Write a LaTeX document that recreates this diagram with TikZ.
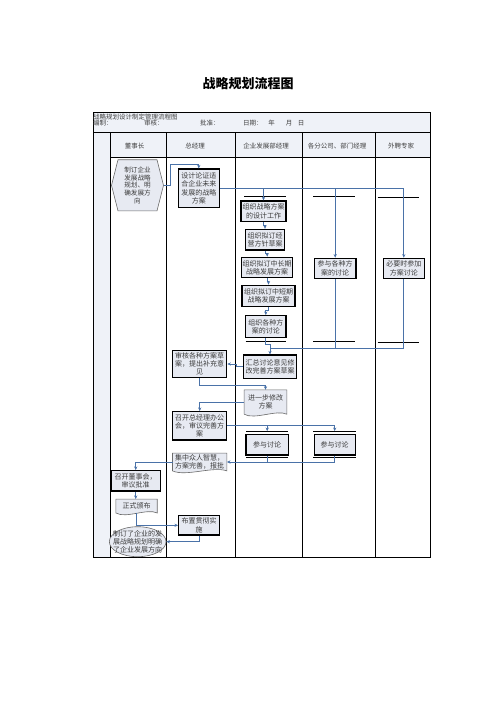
\documentclass[tikz,border=0pt]{standalone}
\usepackage{fontspec}
\newfontfamily\cjk{Noto Sans CJK SC}
\usetikzlibrary{calc,arrows.meta,shapes.geometric,backgrounds}
\definecolor{boxfill}{HTML}{E7EAF2}
\definecolor{hdrfill}{HTML}{EFF2F8}
\definecolor{conncol}{HTML}{4A72A8}
\definecolor{txtcol}{HTML}{3C3C3C}
\definecolor{thinline}{HTML}{6A6A6A}
\newcommand\mydocshape[1]{%
  \begin{scope}[on background layer]
  \path[draw=thinline,line width=0.6pt,fill=boxfill]
    (#1.south west) -- (#1.north west) -- (#1.north east) -- (#1.south east)
    .. controls ($(#1.south)!0.5!(#1.south east)+(0,-5)$) and ($(#1.south)!0.5!(#1.south west)+(0,6)$) .. (#1.south west) -- cycle;
  \end{scope}}
\begin{document}
\begin{tikzpicture}[x=1pt,y=-1pt,
  every node/.style={font=\cjk, text=txtcol, inner sep=0pt},
  box/.style={draw=black, line width=1.2pt, fill=boxfill, align=center, font=\cjk\fontsize{7}{8.3}\selectfont},
  plain/.style={align=center, font=\cjk\fontsize{7}{8.3}\selectfont},
  conn/.style={draw=conncol, line width=0.75pt, -{Stealth[length=3.6pt,width=3.2pt]}},
  connline/.style={draw=conncol, line width=0.75pt},
  bar/.style={draw=black, line width=0.9pt},
  frame/.style={draw=black, line width=0.9pt},
  hdr/.style={font=\cjk\fontsize{6.5}{7}\selectfont, text=black!75},
  lane/.style={font=\cjk\fontsize{6.5}{7}\selectfont, text=black!75}
]
\useasboundingbox (0,0) rectangle (496,702);

% title
\node[font=\cjk\fontsize{13}{13}\selectfont\bfseries, text=black] (title) at (248,84) {战略规划流程图};

% table background and frame
\begin{scope}[on background layer]
\fill[hdrfill] (93,112) rectangle (430,157);
\fill[hdrfill] (93,157) rectangle (110.5,557.5);
\draw[frame] (93,112) rectangle (430,557.5);
\draw[frame] (93,132) -- (430,132);
\draw[frame] (110.5,157) -- (430,157);
\foreach \x in {110.5,166.5,235.5,302.5,375.5} \draw[frame] (\x,132) -- (\x,557.5);
\end{scope}

% header texts
\node[hdr, anchor=west] (h1) at (93,117) {战略规划设计制定管理流程图};
\node[hdr, anchor=west] (h2) at (93,123.5) {编制：};
\node[hdr, anchor=west] (h3) at (144,123.5) {审核：};
\node[hdr, anchor=west] (h4) at (200,123.5) {批准：};
\node[hdr, anchor=west] (h5) at (243,123.5) {日期：};
\node[hdr] (h6) at (271.5,123.5) {年};
\node[hdr] (h7) at (289,123.5) {月};
\node[hdr] (h8) at (301,123.5) {日};

% lane headers
\node[lane] (l1) at (134.5,146) {董事长};
\node[lane] (l2) at (195,146) {总经理};
\node[lane] (l3) at (266,146) {企业发展部经理};
\node[lane] (l4) at (337,146) {各分公司、部门经理};
\node[lane] (l5) at (401,146) {外聘专家};

% hexagon start
\node[plain, font=\cjk\fontsize{6.6}{7.6}\selectfont, minimum width=51.6pt, minimum height=50.7pt] (hex) at (137.5,185.3) {制订企业\\发展战略\\规划、明\\确发展方\\向};
\begin{scope}[on background layer]
\path[draw=thinline, line width=0.6pt, fill=boxfill]
  ($(hex.north west)+(6.5,0)$) -- ($(hex.north east)+(-6.5,0)$) -- (hex.east)
  -- ($(hex.south east)+(-6.5,0)$) -- ($(hex.south west)+(6.5,0)$) -- (hex.west) -- cycle;
\end{scope}

% boxes
\node[box, minimum width=41pt, minimum height=38.3pt] (sheji) at (198.8,188.2) {设计论证适\\合企业未来\\发展的战略\\方案};
\node[box, minimum width=45pt, minimum height=20.5pt] (e1) at (263.5,211.3) {组织战略方案\\的设计工作};
\node[box, minimum width=39pt, minimum height=20.5pt] (e2) at (265,239.7) {组织拟订经\\营方针草案};
\node[box, minimum width=51pt, minimum height=20.4pt] (e3) at (267.2,267.5) {组织拟订中长期\\战略发展方案};
\node[box, minimum width=53pt, minimum height=21.5pt] (e4) at (268.5,296) {组织拟订中短期\\战略发展方案};
\node[box, minimum width=40.3pt, minimum height=22pt] (e5) at (265.8,326.7) {组织各种方\\案的讨论};
\node[box, minimum width=41.7pt, minimum height=20pt] (p1) at (335.2,268.3) {参与各种方\\案的讨论};
\node[box, minimum width=41pt, minimum height=20pt] (p2) at (403.8,268.3) {必要时参加\\方案讨论};

\node[box, minimum width=53.4pt, minimum height=23.3pt] (hz) at (270,366.7) {汇总讨论意见修\\改完善方案草案};
\node[box, minimum width=54pt, minimum height=26.6pt] (sh) at (199.7,364) {审核各种方案草\\案，提出补充意\\见};
\node[plain, minimum width=42.4pt, minimum height=24pt] (jy) at (265.5,402) {进一步修改\\方案};
\mydocshape{jy}
\node[box, minimum width=54pt, minimum height=28.3pt] (zk) at (199.7,425.8) {召开总经理办公\\会，审议完善方\\案};
\node[box, minimum width=42.3pt, minimum height=20.7pt] (q1) at (267.2,444.7) {参与讨论};
\node[box, minimum width=41pt, minimum height=20.7pt] (q2) at (334.7,444.7) {参与讨论};
\node[plain, minimum width=54pt, minimum height=17.4pt] (jz) at (199.7,462) {集中众人智慧，\\方案完善，报批};
\mydocshape{jz}
\node[box, minimum width=49.3pt, minimum height=20.3pt] (ds) at (135.7,480.8) {召开董事会，\\审议批准};
\node[plain, minimum width=41pt, minimum height=13.5pt] (gb) at (136.5,506) {正式颁布};
\mydocshape{gb}
\node[box, minimum width=41pt, minimum height=19.3pt] (bz) at (199.2,525.3) {布置贯彻实\\施};
\node[ellipse, draw=thinline, line width=0.6pt, fill=boxfill, minimum width=56.7pt, minimum height=30pt] (el) at (137.7,541.7) {};
\node[plain] (elt) at (el.center) {制订了企业的发\\展战略规划明确\\了企业发展方向};

% sync bars
\draw[bar] (244,196.3) -- (286,196.3);
\draw[bar] (313.3,196.3) -- (355,196.3);
\draw[bar] (377.7,197.5) -- (419.3,197.5);
\draw[bar] (245.7,341.7) -- (286,341.7);
\draw[bar] (313.3,341.7) -- (355,341.7);
\draw[bar] (377.7,342.5) -- (419.3,342.5);
\draw[bar] (246,431.7) -- (288.3,431.7);
\draw[bar] (246,457.7) -- (288.3,457.7);
\draw[bar] (313.3,431.7) -- (355.5,431.7);
\draw[bar] (313.3,457.7) -- (355.5,457.7);

% connectors
\coordinate (c1) at (170,185.3);
\coordinate (c2) at (170,164);
\draw[conn] (hex.east) -- (c1) -- (c2) -| (sheji.north);
\draw[conn] (sheji.east) -| (p2.north);
\draw[conn] (sheji.east -| e1.north) -- (e1.north);
\draw[conn] (sheji.east -| p1.north) -- (p1.north);
\draw[conn] (e1.south) -- ++(0,3) -| (e2.north);
\draw[conn] (e2.south) -- ++(0,3) -| (e3.north);
\draw[conn] (e3.south) -- ++(0,3) -| (e4.north);
\draw[conn] (e4.south) -- ++(0,3) -| (e5.north);
\coordinate (j1) at ($(hz.north)+(0,-6)$);
\draw[conn] (e5.south) -- ++(0,6) -| (hz.north);
\draw[connline] (p2.south) |- (j1);
\draw[connline] (p1.south) -- (p1.south |- j1);
\draw[conn] (hz.west) -- ++(-6.6,0) |- (sh.east);
\draw[conn] (sh.south) -- ++(0,7.7) -| (jy.north);
\draw[conn] (jy.west) -| (zk.north);
\draw[conn] (zk.east) -| ([yshift=2.6pt]q2.north);
\draw[conn] (zk.east -| q1.north) -- ([yshift=2.6pt]q1.north);
\draw[conn] (q2.south) |- (jz.east);
\draw[connline] (q1.south) -- (q1.south |- jz.east);
\draw[conn] (jz.west) -| (ds.north);
\draw[conn] (ds.south) -- (ds.south |- gb.north);
\draw[conn] (gb.south) |- (bz.west);
\draw[conn] (bz.south) |- (el.east);
\end{tikzpicture}
\end{document}
